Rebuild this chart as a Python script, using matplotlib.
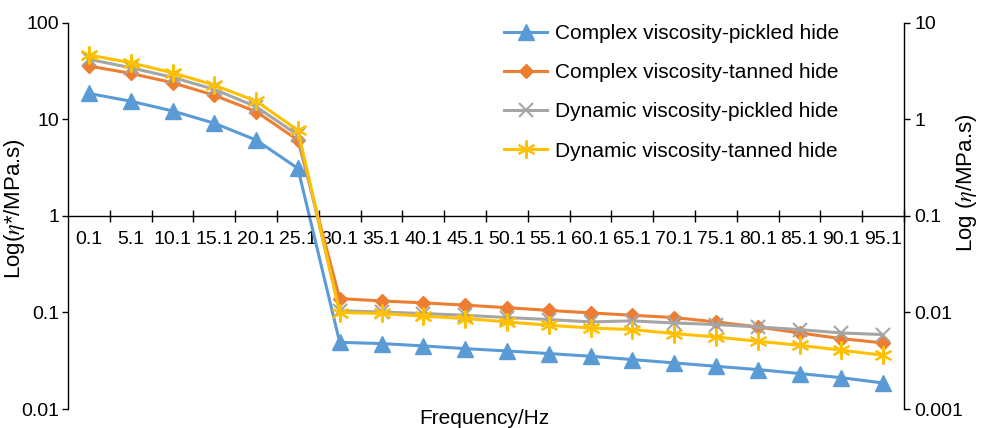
"""
Complex / dynamic viscosity of pickled vs tanned hide over frequency
(dual log axes, Excel-style category x axis crossing at 1)
"""

import numpy as np
import matplotlib
matplotlib.use("Agg")
import matplotlib.pyplot as plt
from matplotlib.ticker import FixedLocator, NullLocator, FixedFormatter

plt.rcParams["font.family"] = ["Liberation Sans", "DejaVu Sans"]
plt.rcParams["mathtext.fontset"] = "stix"

FREQ_LABELS = ["0.1", "5.1", "10.1", "15.1", "20.1", "25.1", "30.1", "35.1", "40.1", "45.1",
               "50.1", "55.1", "60.1", "65.1", "70.1", "75.1", "80.1", "85.1", "90.1", "95.1"]

# left axis (MPa.s)
complex_pickled = [18.5, 15.4, 12.2, 9.1, 6.1, 3.1, 0.049, 0.0476, 0.045, 0.0422,
                   0.0399, 0.0375, 0.0352, 0.0325, 0.030, 0.0277, 0.0256, 0.0233, 0.0211, 0.0186]
complex_tanned = [35.6, 29.9, 23.9, 17.7, 12.0, 6.1, 0.139, 0.1316, 0.1255, 0.119,
                  0.112, 0.105, 0.0989, 0.0935, 0.0885, 0.0797, 0.0708, 0.0613, 0.0536, 0.0483]
# right axis (MPa.s)
dynamic_pickled = [4.18, 3.42, 2.72, 2.04, 1.35, 0.686, 0.0104, 0.0101, 0.00974, 0.00935,
                   0.00885, 0.00844, 0.00798, 0.00817, 0.00778, 0.00749, 0.00708, 0.00664, 0.00613, 0.0059]
dynamic_tanned = [4.63, 3.85, 3.03, 2.26, 1.54, 0.77, 0.00998, 0.00975, 0.00914, 0.00865,
                  0.00798, 0.00737, 0.0069, 0.00664, 0.00604, 0.00557, 0.00503, 0.00457, 0.00406, 0.0036]

LEFT_TICKS = [0.01, 0.1, 1, 10, 100]
LEFT_TICK_LABELS = ["0.01", "0.1", "1", "10", "100"]
RIGHT_TICKS = [0.001, 0.01, 0.1, 1, 10]
RIGHT_TICK_LABELS = ["0.001", "0.01", "0.1", "1", "10"]

FS = 15       # legend / x title
YLAB_FS = 16  # y titles
TICK_FS = 14  # tick labels

fig = plt.figure(figsize=(9.82, 4.28), dpi=100)
ax = fig.add_axes([68 / 982, 1 - 409 / 428, (904 - 68) / 982, (409 - 22.7) / 428])
ax2 = ax.twinx()

x = np.arange(len(FREQ_LABELS))

ax.plot(x, complex_pickled, color="#5B9BD5", lw=2.2, marker="^", ms=11,
        label="Complex viscosity-pickled hide")
ax.plot(x, complex_tanned, color="#ED7D31", lw=2.2, marker="D", ms=7.5,
        label="Complex viscosity-tanned hide")
ax2.plot(x, dynamic_pickled, color="#A5A5A5", lw=2.2, marker="x", ms=10, mew=1.5,
         label="Dynamic viscosity-pickled hide")
ax2.plot(x, dynamic_tanned, color="#FFC000", lw=2.2, marker=(6, 2, 0), ms=13, mew=1.5,
         label="Dynamic viscosity-tanned hide")

for a, lo, hi in ((ax, 0.01, 100), (ax2, 0.001, 10)):
    a.set_yscale("log")
    a.set_ylim(lo, hi)
    a.yaxis.set_minor_locator(NullLocator())
    a.set_xlim(-0.5, len(FREQ_LABELS) - 0.5)
    a.spines["top"].set_visible(False)

ax.yaxis.set_major_locator(FixedLocator(LEFT_TICKS))
ax.yaxis.set_major_formatter(FixedFormatter(LEFT_TICK_LABELS))
ax2.yaxis.set_major_locator(FixedLocator(RIGHT_TICKS))
ax2.yaxis.set_major_formatter(FixedFormatter(RIGHT_TICK_LABELS))

ax.spines["right"].set_visible(False)
ax.spines["bottom"].set_position(("data", 1))
ax2.spines["left"].set_visible(False)
ax2.spines["bottom"].set_visible(False)

# category axis: boundary ticks (crossing), labels at category centres
ax.set_xticks(np.arange(0.5, len(FREQ_LABELS), 1))
ax.set_xticklabels([])
ax.set_xticks(x, minor=True)
ax.set_xticklabels(FREQ_LABELS, minor=True, fontsize=TICK_FS)
ax.tick_params(axis="x", which="major", direction="inout", length=8, width=1)
ax.tick_params(axis="x", which="minor", length=0, pad=11)
ax2.tick_params(axis="x", which="both", bottom=False, labelbottom=False)

ax.tick_params(axis="y", which="major", direction="out", length=4.5, width=1, pad=2,
               labelsize=TICK_FS)
ax2.tick_params(axis="y", which="major", direction="out", length=4.5, width=1, pad=3,
                labelsize=TICK_FS)

for a in (ax, ax2):
    for s in a.spines.values():
        s.set_linewidth(1)

ax.set_ylabel(r"Log($\eta$*/MPa.s)", fontsize=YLAB_FS)
ax.yaxis.set_label_coords(-0.049, 0.52)
ax2.set_ylabel(r"Log ($\eta$/MPa.s)", fontsize=YLAB_FS)
ax2.yaxis.set_label_coords(1.06, 0.585)

fig.text(484 / 982, 1 - 419 / 428, "Frequency/Hz", fontsize=FS, ha="center", va="center")

handles = ax.get_legend_handles_labels()[0] + ax2.get_legend_handles_labels()[0]
labels = [h.get_label() for h in handles]
fig.legend(handles, labels, loc="upper left", bbox_to_anchor=(504 / 982, 1 - 24 / 428),
           frameon=False, fontsize=FS, borderpad=0, borderaxespad=0,
           handlelength=2.07, handletextpad=0.38, labelspacing=0.97)

fig.savefig("out.png", dpi=100)
plt.close(fig)
